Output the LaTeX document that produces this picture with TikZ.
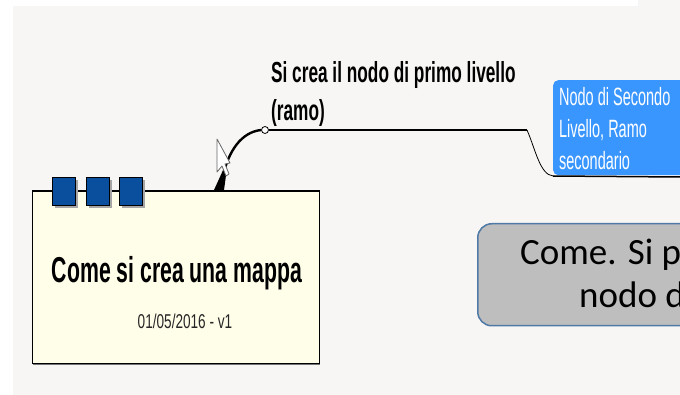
\documentclass[tikz,border=0pt]{standalone}
\usepackage{fontspec}
\setmainfont{Liberation Sans}
\newfontfamily\calibrifont{Carlito}
\tikzset{
	tabbox/.style={draw=black,line width=1pt,minimum width=23pt,minimum height=28pt,inner sep=0pt,anchor=north west},
	tabshadow/.style={fill=black!35},
	boldlabel/.style={font=\fontsize{29}{29}\selectfont\bfseries,xscale=.595,anchor=base west,inner sep=0pt},
	whitelabel/.style={font=\fontsize{25}{25}\selectfont,text=white,xscale=.58,anchor=base west,inner sep=0pt},
	slidelabel/.style={font=\calibrifont\fontsize{37}{37}\selectfont,anchor=base west,inner sep=0pt}
}
\definecolor{pagegray}{HTML}{F8F6F4}
\definecolor{rootfill}{HTML}{FFFEE9}
\definecolor{tabblue}{HTML}{0A4F9E}
\definecolor{nodeblue}{HTML}{3A96FF}
\definecolor{slidegray}{HTML}{BEBEBE}
\definecolor{slideedge}{HTML}{4F79A6}
\begin{document}
\begin{tikzpicture}[x=1pt,y=-1pt]
	\useasboundingbox (0,0) rectangle (680,395);
	\clip (0,0) rectangle (680,395);
	\fill [white] (0,0) rectangle (680,395);
	\fill [pagegray] (13,6) rectangle (680,395);
	\fill [pagegray] (638,0) rectangle (680,6);

	% root
	\fill [black!55] (33,363) rectangle (320,365);
	\node [draw=black,fill=rootfill,line width=1pt,minimum width=287pt,minimum height=172pt,inner sep=0pt,anchor=north west] (root) at (32,191) {};
	\draw [line width=1.6pt] (root.north west) -- (root.north east);
	\foreach \x/\name in {52/taba,86/tabb,119/tabc} {
		\fill [tabshadow] (\x+3,180) rectangle (\x+26,208);
		\node [tabbox,fill=tabblue] (\name) at (\x,177) {};
	}
	\node [font=\fontsize{36}{36}\selectfont\bfseries,xscale=.59,anchor=base,inner sep=0pt] (title) at (177,283) {Come si crea una mappa};
	\node [font=\fontsize{20}{20}\selectfont,xscale=.68,text=black!85,anchor=base,inner sep=0pt] (date) at (185,328) {01/05/2016 - v1};

	% ramo
	\coordinate (start) at (218,190);
	\node [draw=black,fill=white,circle,line width=.8pt,minimum size=7pt,inner sep=0pt] (knob) at (265,130) {};
	\fill [black] (start) ++(-4,0) -- (224,168) -- (227,168) -- (224,190) -- cycle;
	\draw [line width=2.4pt] (222,180) .. controls (228,150) and (242,132) .. (knob.west);
	\node [boldlabel] (lab1) at (271,83) {Si crea il nodo di primo livello};
	\node [boldlabel] (lab2) at (271,121) {(ramo)};

	% secondo livello
	\node [fill=nodeblue,rounded corners=5pt,minimum width=140pt,minimum height=95pt,inner sep=0pt,anchor=north west] (second) at (553,80) {};
	\node [whitelabel] (sec1) at (559,106) {Nodo di Secondo};
	\node [whitelabel] (sec2) at (559,138) {Livello, Ramo};
	\node [whitelabel] (sec3) at (559,170) {secondario};
	\coordinate (bend) at (527,130);
	\coordinate (foot) at (553,176);
	\coordinate (under) at (680,177);
	\draw [line width=1.2pt] (knob.east) -- (bend);
	\draw [line width=.8pt] (bend) .. controls (535,148) and (540,175) .. (foot);
	\draw [line width=1.5pt] (foot) -- (under);

	% riquadro
	\node [draw=slideedge,fill=slidegray,line width=1.5pt,rounded corners=14pt,minimum width=240pt,minimum height=102pt,inner sep=0pt,anchor=north west] (slide) at (477,223) {};
	\node [slidelabel] (come) at (520,265) {Come. Si p};
	\node [slidelabel] (nodo) at (579,308) {nodo d};

	% cursore
	\draw [black!60,fill=white,line width=.8pt,line join=round] (217,139) -- (217,172) -- (222,166) -- (226,176) -- (229,174) -- (225,164) -- (230,163) -- cycle;
\end{tikzpicture}
\end{document}
